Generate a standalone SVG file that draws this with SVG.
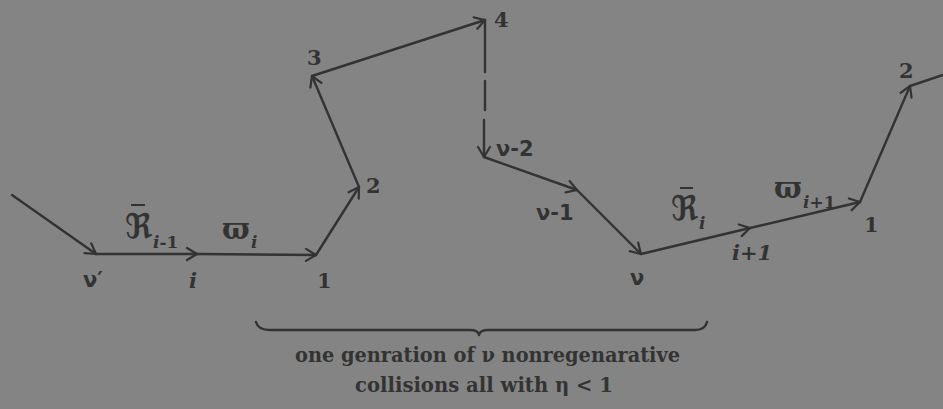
<svg xmlns="http://www.w3.org/2000/svg" width="943" height="409" viewBox="0 0 943 409">
<style>
.ln{fill:none;stroke:#333;stroke-width:2.4;stroke-linecap:round;stroke-linejoin:round}
.lb{font-family:"DejaVu Serif","Liberation Serif",serif;font-size:21px;font-weight:bold;fill:#333}
.gr{font-family:"DejaVu Sans","Liberation Sans",sans-serif;font-weight:bold}
.fr{font-family:"DejaVu Sans","DejaVu Serif",serif;font-size:34px;font-weight:bold}
.pi{font-family:"DejaVu Serif",serif;font-size:29px;font-weight:bold}
.it{font-style:italic}
.sub{font-size:17px}
.cap{font-family:"DejaVu Serif","Liberation Serif",serif;font-size:20px;font-weight:bold;fill:#333}
</style>
<defs>
<marker id="ah" markerUnits="userSpaceOnUse" markerWidth="16" markerHeight="16" refX="13" refY="8" orient="auto" viewBox="0 0 16 16">
<path d="M3,2 L13,8 L3,14" fill="none" stroke="#333" stroke-width="2.2" stroke-linecap="round" stroke-linejoin="round"/>
</marker>
</defs>
<rect width="943" height="409" fill="#848484"/>
<g id="connectors">
<path class="ln" d="M12,195 L96,254" marker-end="url(#ah)"/>
<path class="ln" d="M96,254 L197,254" marker-end="url(#ah)"/>
<path class="ln" d="M197,254 L316,255" marker-end="url(#ah)"/>
<path class="ln" d="M316,255 L359,187" marker-end="url(#ah)"/>
<path class="ln" d="M359,187 L312,76" marker-end="url(#ah)"/>
<path class="ln" d="M312,76 L485,20" marker-end="url(#ah)"/>
<path class="ln" d="M485,20 L485,72 M485,81 L485,110 M484,120 L484,157" marker-end="url(#ah)"/>
<path class="ln" d="M484,157 L577,190" marker-end="url(#ah)"/>
<path class="ln" d="M577,190 L641,254" marker-end="url(#ah)"/>
<path class="ln" d="M641,254 L750,228" marker-end="url(#ah)"/>
<path class="ln" d="M750,228 L860,202" marker-end="url(#ah)"/>
<path class="ln" d="M860,202 L910,86" marker-end="url(#ah)"/>
<path class="ln" d="M910,86 L943,75"/>
<path class="ln" d="M256,322 Q258,330 270,330 L470,330 Q478,330 479,335 Q480,330 488,330 L695,330 Q705,330 707,322" stroke-width="2"/>
</g>
<g id="n-vprime"><text class="lb gr" x="83" y="287">ν′</text></g>
<g id="n-i"><text class="lb it" x="189" y="288">i</text></g>
<g id="n-1a"><text class="lb" x="317" y="288">1</text></g>
<g id="n-2a"><text class="lb" x="366" y="193">2</text></g>
<g id="n-3"><text class="lb" x="307" y="65">3</text></g>
<g id="n-4"><text class="lb" x="494" y="27">4</text></g>
<g id="n-vm2"><text class="lb gr" x="496" y="156">ν-2</text></g>
<g id="n-vm1"><text class="lb gr" x="536" y="220">ν-1</text></g>
<g id="n-v"><text class="lb gr" x="630" y="285">ν</text></g>
<g id="n-ip1"><text class="lb it" x="732" y="260">i+1</text></g>
<g id="n-1b"><text class="lb" x="864" y="232">1</text></g>
<g id="n-2b"><text class="lb" x="899" y="78">2</text></g>
<g id="lbl-R1">
<text class="lb fr" x="125" y="238">ℜ</text>
<line x1="131" y1="205" x2="145" y2="205" stroke="#333" stroke-width="2"/>
<text class="lb sub" x="153" y="248"><tspan class="it">i</tspan>-1</text>
</g>
<g id="lbl-w1">
<text class="lb pi" x="222" y="239">ϖ</text>
<text class="lb sub it" x="251" y="248">i</text>
</g>
<g id="lbl-R2">
<text class="lb fr" x="671" y="220">ℜ</text>
<line x1="680" y1="188" x2="693" y2="188" stroke="#333" stroke-width="2"/>
<text class="lb sub it" x="699" y="229">i</text>
</g>
<g id="lbl-w2">
<text class="lb pi" x="774" y="198">ϖ</text>
<text class="lb sub" x="803" y="208"><tspan class="it">i</tspan>+1</text>
</g>
<g id="caption">
<text class="cap" x="295" y="362" textLength="385" lengthAdjust="spacingAndGlyphs">one genration of ν nonregenarative</text>
<text class="cap" x="355" y="392" textLength="258" lengthAdjust="spacingAndGlyphs">collisions all with η &lt; 1</text>
</g>
</svg>
